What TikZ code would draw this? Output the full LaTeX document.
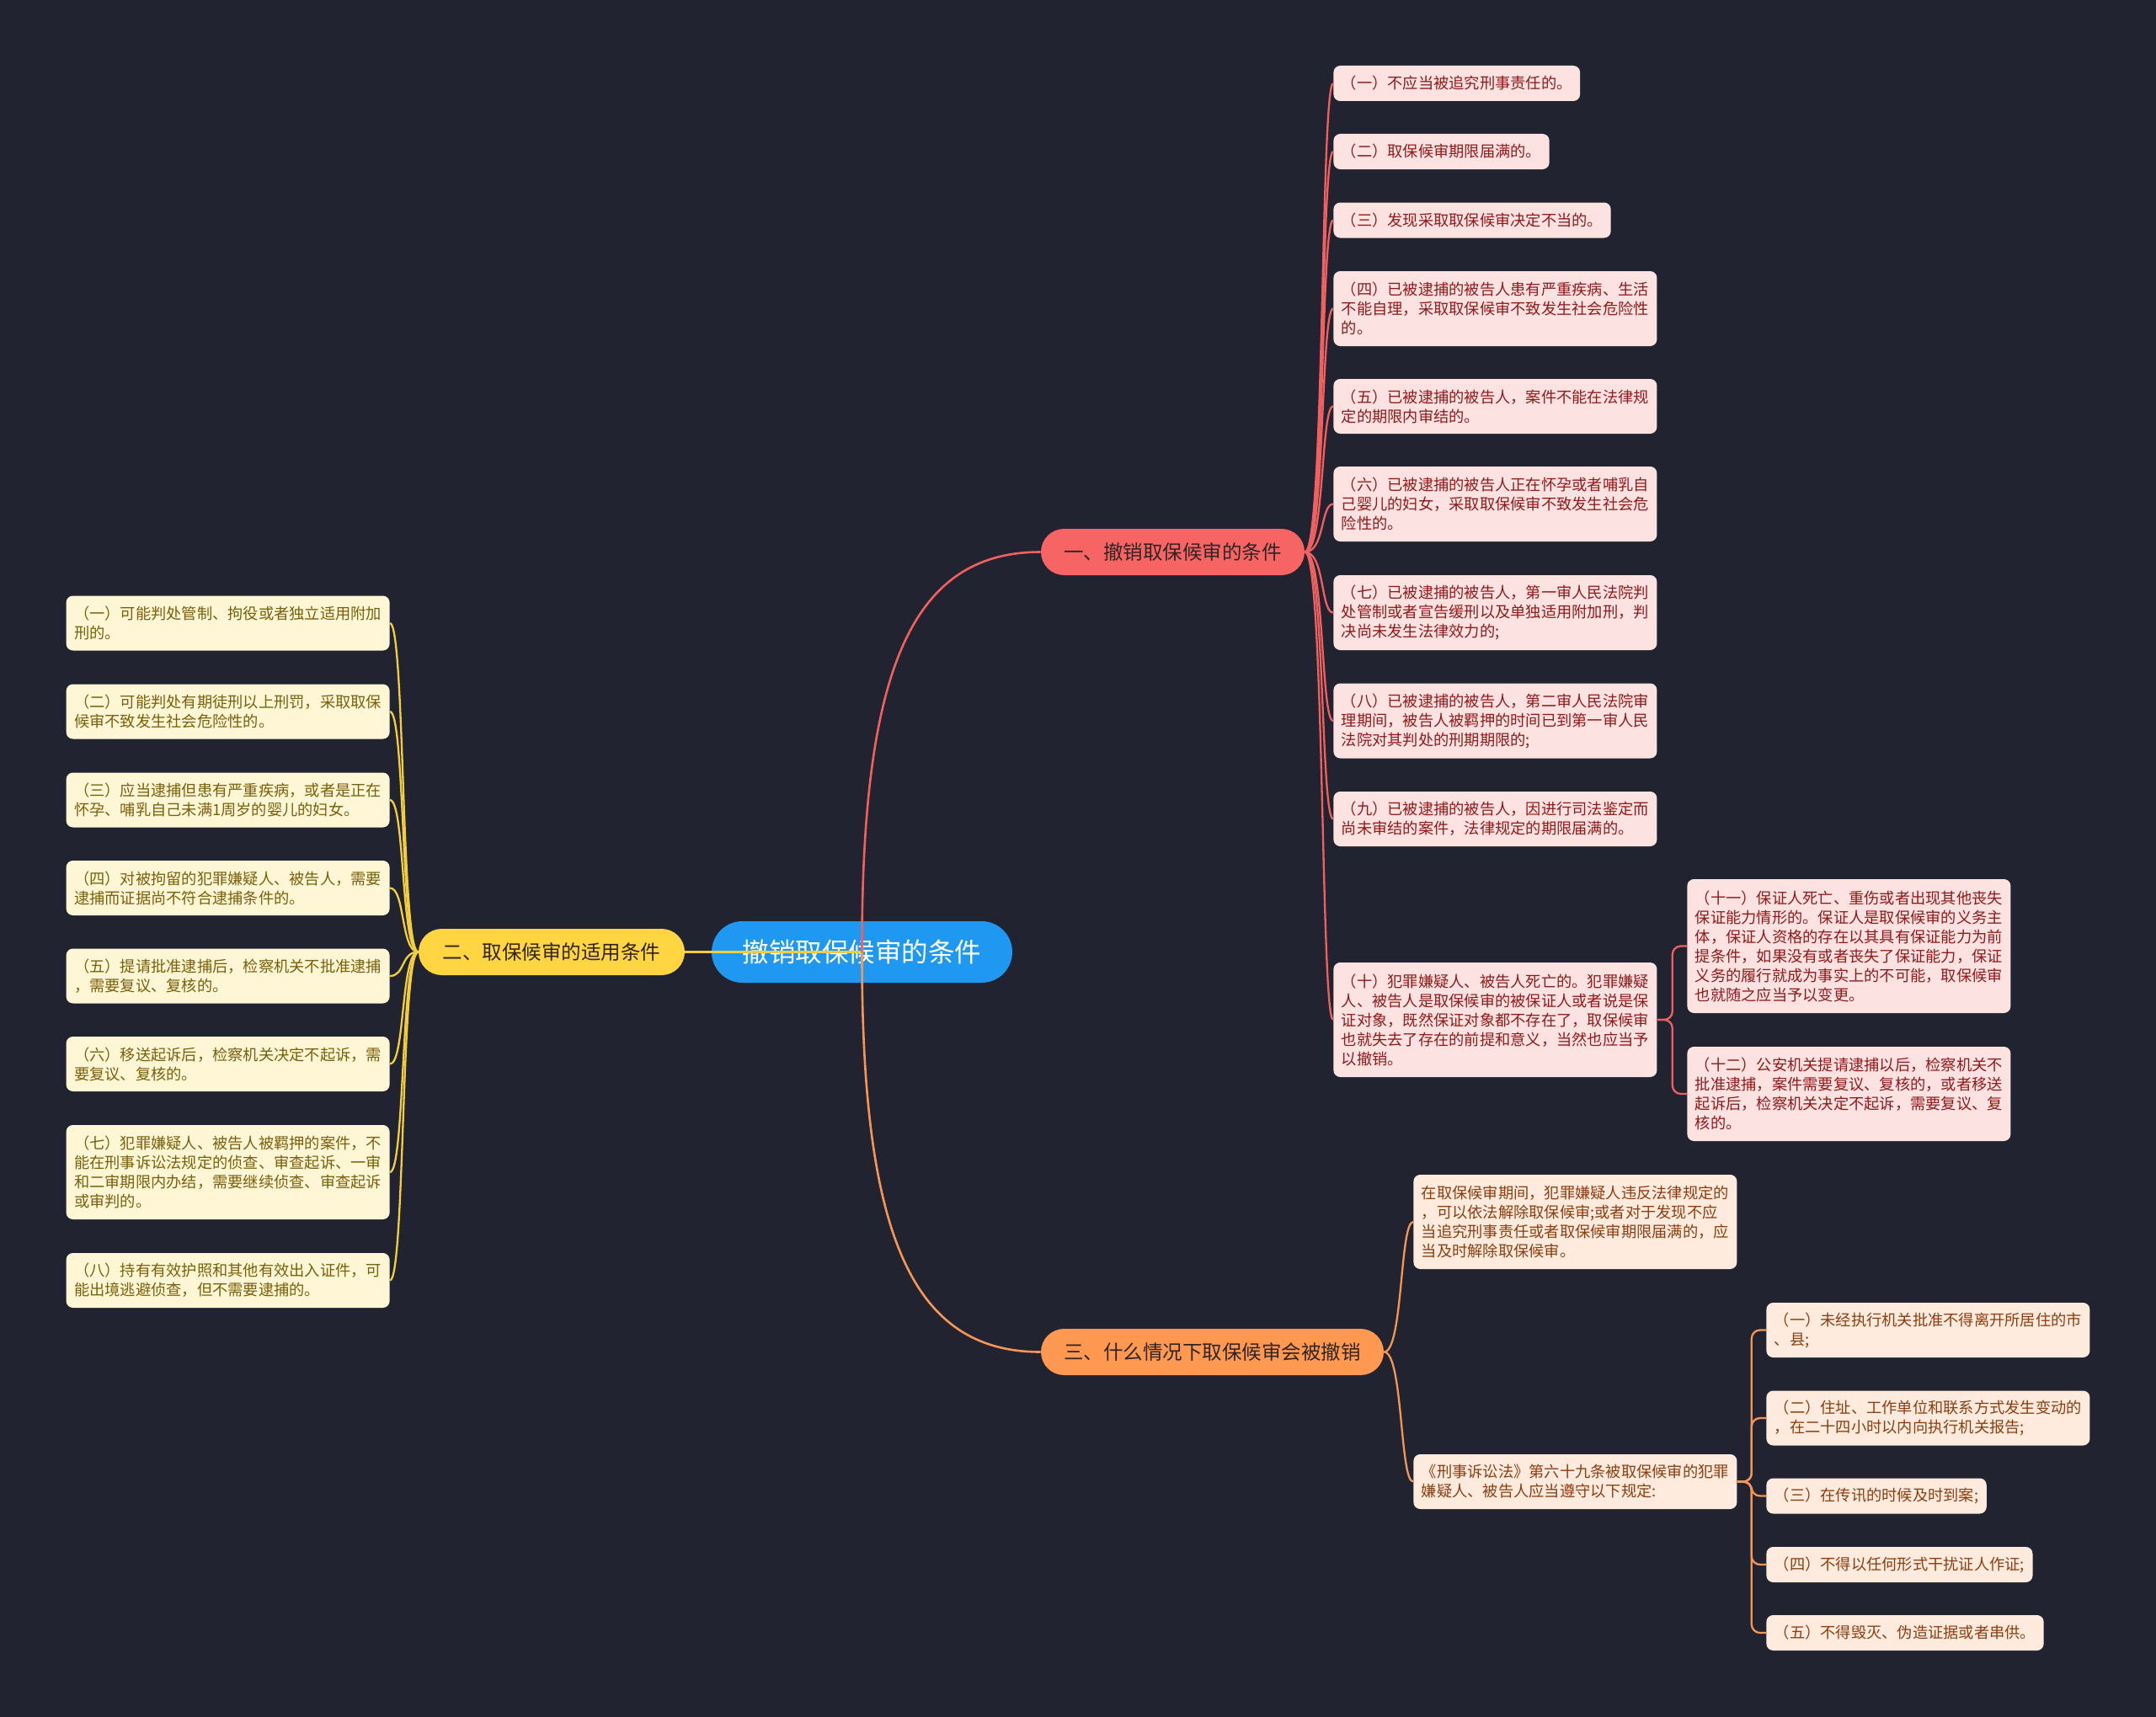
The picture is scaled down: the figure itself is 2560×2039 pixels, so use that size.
\documentclass[tikz,border=0pt]{standalone}
\usepackage{fontspec}
\newfontfamily\cjkfont{Noto Sans CJK SC}
\definecolor{bgc}{RGB}{33,36,48}
\definecolor{cfill}{RGB}{30,152,240}
\definecolor{rfill}{RGB}{247,100,100}
\definecolor{rline}{RGB}{240,96,96}
\definecolor{rleaf}{RGB}{253,226,226}
\definecolor{rtext}{RGB}{145,26,26}
\definecolor{yfill}{RGB}{255,213,65}
\definecolor{yline}{RGB}{242,206,62}
\definecolor{yleaf}{RGB}{255,246,214}
\definecolor{ytext}{RGB}{122,96,10}
\definecolor{ofill}{RGB}{255,153,82}
\definecolor{oline}{RGB}{245,150,85}
\definecolor{oleaf}{RGB}{255,235,222}
\definecolor{otext}{RGB}{140,62,15}
\definecolor{btext}{RGB}{48,36,36}
\begin{document}
\begin{tikzpicture}[x=0.5pt,y=-0.5pt,
  centerbox/.style={fill=cfill, text=white, rounded corners=18.25pt, minimum width=178.5pt, minimum height=36.5pt, inner sep=0pt, font=\cjkfont\fontsize{15.75pt}{18pt}\selectfont},
  branchbox/.style={rounded corners=13.75pt, minimum height=27.5pt, inner sep=0pt, text=btext, font=\cjkfont\fontsize{11.75pt}{14pt}\selectfont},
  leafbase/.style={rounded corners=4pt, inner xsep=4.75pt, inner ysep=0pt, align=left, font=\cjkfont\fontsize{9.125pt}{11.5pt}\selectfont},
  redleaf/.style={leafbase, fill=rleaf, text=rtext},
  yelleaf/.style={leafbase, fill=yleaf, text=ytext},
  orgleaf/.style={leafbase, fill=oleaf, text=otext},
  wide/.style={text width=182.5pt},
  nla/.style={minimum height=21pt},
  nlb/.style={minimum height=32.5pt},
  nlc/.style={minimum height=44.5pt},
  nld/.style={minimum height=56pt},
  nle/.style={minimum height=68pt},
  nlf/.style={minimum height=79.5pt},
  mainline/.style={line width=1.3pt},
  subline/.style={line width=1.15pt},
]
\useasboundingbox (0,0) rectangle (2560,2039);
\fill[bgc] (0,0) rectangle (2560,2039);

% center and branches
\node[centerbox] (c) at (1023.5,1130.5) {撤销取保候审的条件};
\node[branchbox, fill=rfill, minimum width=156.5pt] (b1) at (1392.5,655.5) {一、撤销取保候审的条件};
\node[branchbox, fill=yfill, minimum width=158pt] (b2) at (655,1130.5) {二、取保候审的适用条件};
\node[branchbox, fill=ofill, minimum width=203.5pt] (b3) at (1439.5,1605.5) {三、什么情况下取保候审会被撤销};

% red leaves
\node[redleaf, nla, anchor=west] (r1) at (1583,99) {（一）不应当被追究刑事责任的。};
\node[redleaf, nla, anchor=west] (r2) at (1583,180) {（二）取保候审期限届满的。};
\node[redleaf, nla, anchor=west] (r3) at (1583,261.5) {（三）发现采取取保候审决定不当的。};
\node[redleaf, wide, nlc, anchor=west] (r4) at (1583,366.5) {（四）已被逮捕的被告人患有严重疾病、生活\\不能自理，采取取保候审不致发生社会危险性\\的。};
\node[redleaf, wide, nlb, anchor=west] (r5) at (1583,482.5) {（五）已被逮捕的被告人，案件不能在法律规\\定的期限内审结的。};
\node[redleaf, wide, nlc, anchor=west] (r6) at (1583,598.5) {（六）已被逮捕的被告人正在怀孕或者哺乳自\\己婴儿的妇女，采取取保候审不致发生社会危\\险性的。};
\node[redleaf, wide, nlc, anchor=west] (r7) at (1583,727.5) {（七）已被逮捕的被告人，第一审人民法院判\\处管制或者宣告缓刑以及单独适用附加刑，判\\决尚未发生法律效力的;};
\node[redleaf, wide, nlc, anchor=west] (r8) at (1583,856) {（八）已被逮捕的被告人，第二审人民法院审\\理期间，被告人被羁押的时间已到第一审人民\\法院对其判处的刑期期限的;};
\node[redleaf, wide, nlb, anchor=west] (r9) at (1583,972.5) {（九）已被逮捕的被告人，因进行司法鉴定而\\尚未审结的案件，法律规定的期限届满的。};
\node[redleaf, wide, nle, anchor=west] (r10) at (1583,1211) {（十）犯罪嫌疑人、被告人死亡的。犯罪嫌疑\\人、被告人是取保候审的被保证人或者说是保\\证对象，既然保证对象都不存在了，取保候审\\也就失去了存在的前提和意义，当然也应当予\\以撤销。};
\node[redleaf, wide, nlf, anchor=west] (r11) at (2003,1123.5) {（十一）保证人死亡、重伤或者出现其他丧失\\保证能力情形的。保证人是取保候审的义务主\\体，保证人资格的存在以其具有保证能力为前\\提条件，如果没有或者丧失了保证能力，保证\\义务的履行就成为事实上的不可能，取保候审\\也就随之应当予以变更。};
\node[redleaf, wide, nld, anchor=west] (r12) at (2003,1299) {（十二）公安机关提请逮捕以后，检察机关不\\批准逮捕，案件需要复议、复核的，或者移送\\起诉后，检察机关决定不起诉，需要复议、复\\核的。};

% yellow leaves
\node[yelleaf, wide, nlb, anchor=east] (y1) at (463,740) {（一）可能判处管制、拘役或者独立适用附加\\刑的。};
\node[yelleaf, wide, nlb, anchor=east] (y2) at (463,845) {（二）可能判处有期徒刑以上刑罚，采取取保\\候审不致发生社会危险性的。};
\node[yelleaf, wide, nlb, anchor=east] (y3) at (463,950) {（三）应当逮捕但患有严重疾病，或者是正在\\怀孕、哺乳自己未满1周岁的婴儿的妇女。};
\node[yelleaf, wide, nlb, anchor=east] (y4) at (463,1054.5) {（四）对被拘留的犯罪嫌疑人、被告人，需要\\逮捕而证据尚不符合逮捕条件的。};
\node[yelleaf, wide, nlb, anchor=east] (y5) at (463,1159) {（五）提请批准逮捕后，检察机关不批准逮捕\\，需要复议、复核的。};
\node[yelleaf, wide, nlb, anchor=east] (y6) at (463,1263.5) {（六）移送起诉后，检察机关决定不起诉，需\\要复议、复核的。};
\node[yelleaf, wide, nld, anchor=east] (y7) at (463,1392) {（七）犯罪嫌疑人、被告人被羁押的案件，不\\能在刑事诉讼法规定的侦查、审查起诉、一审\\和二审期限内办结，需要继续侦查、审查起诉\\或审判的。};
\node[yelleaf, wide, nlb, anchor=east] (y8) at (463,1520.5) {（八）持有有效护照和其他有效出入证件，可\\能出境逃避侦查，但不需要逮捕的。};

% orange leaves
\node[orgleaf, wide, nld, anchor=west] (o1) at (1678,1451) {在取保候审期间，犯罪嫌疑人违反法律规定的\\，可以依法解除取保候审;或者对于发现不应\\当追究刑事责任或者取保候审期限届满的，应\\当及时解除取保候审。};
\node[orgleaf, wide, nlb, anchor=west] (o2) at (1678,1759.5) {《刑事诉讼法》第六十九条被取保候审的犯罪\\嫌疑人、被告人应当遵守以下规定:};
\node[orgleaf, wide, nlb, anchor=west] (o21) at (2097,1579.5) {（一）未经执行机关批准不得离开所居住的市\\、县;};
\node[orgleaf, wide, nlb, anchor=west] (o22) at (2097,1684) {（二）住址、工作单位和联系方式发生变动的\\，在二十四小时以内向执行机关报告;};
\node[orgleaf, nla, anchor=west] (o23) at (2097,1776.5) {（三）在传讯的时候及时到案;};
\node[orgleaf, nla, anchor=west] (o24) at (2097,1858) {（四）不得以任何形式干扰证人作证;};
\node[orgleaf, nla, anchor=west] (o25) at (2097,1939) {（五）不得毁灭、伪造证据或者串供。};

% connectors from center (drawn over the center node)
\draw[mainline, yline] (c.center) -- (b2.east);
\draw[mainline, rline] (c.center) .. controls (1023,800) and (1080,655.5) .. (b1.west);
\draw[mainline, oline] (c.center) .. controls (1023,1461) and (1080,1605.5) .. (b3.west);

% red branch to leaves
\foreach \n/\yy in {r1/99, r2/180, r3/261.5, r4/366.5, r5/482.5, r6/598.5, r7/727.5, r8/856, r9/972.5, r10/1211}
  \draw[subline, rline] (b1.east) .. controls (1573,655.5) and (1568,\yy) .. (\n.west);
\foreach \n in {r11, r12}
  \draw[subline, rline, rounded corners=5pt] (r10.east) -- ++(18,0) |- (\n.west);

% yellow branch to leaves
\foreach \n/\yy in {y1/740, y2/845, y3/950, y4/1054.5, y5/1159, y6/1263.5, y7/1392, y8/1520.5}
  \draw[subline, yline] (b2.west) .. controls (476,1130.5) and (481,\yy) .. (\n.east);

% orange branch to leaves
\foreach \n/\yy in {o1/1451, o2/1759.5}
  \draw[subline, oline] (b3.east) .. controls (1666,1605.5) and (1662,\yy) .. (\n.west);
\foreach \n in {o21, o22, o23, o24, o25}
  \draw[subline, oline, rounded corners=5pt] (o2.east) -- ++(17,0) |- (\n.west);
\end{tikzpicture}
\end{document}
